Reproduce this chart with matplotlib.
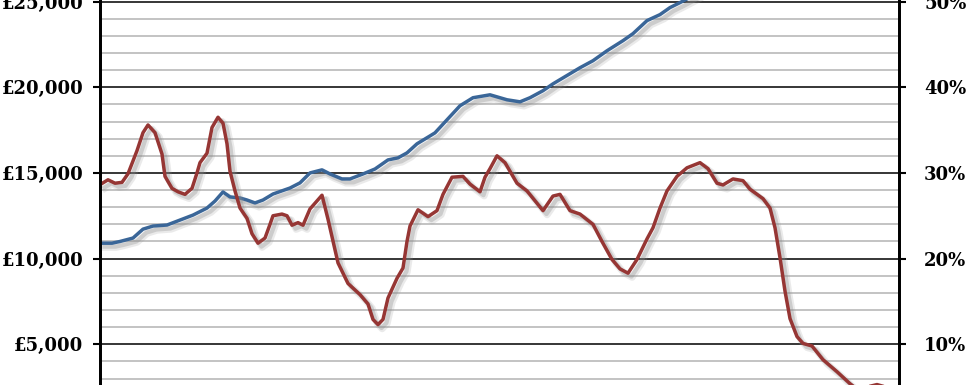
"""Recreate the two-axis line chart (value in pounds and percentage)."""

import matplotlib

matplotlib.use("Agg")
import matplotlib.patheffects as pe
import matplotlib.pyplot as plt
from matplotlib.font_manager import FontProperties
from matplotlib.ticker import FuncFormatter, MultipleLocator

# period index (roughly months) and values
BLUE_PERIOD = [0, 2.2, 3.8, 6.4, 8.4, 10.4, 13.2, 15.8, 18.4, 21.2, 22.8, 24.4, 25.8, 27.8,
               29.2, 30.8, 32.4, 34.4, 37.8, 39.8, 41.8, 44.2, 45.8, 48.2, 49.8, 52.4, 54.8,
               57.4, 59.4, 61.2, 63.2, 65.8, 66.8, 69.2, 71.8, 74.4, 77.8, 81.2, 83.8, 85.8,
               88.4, 90.4, 95.8, 98.4, 101.2, 104.4, 106.4, 109.2, 111.8, 113.8, 115.8, 118.8]
BLUE_VALUE = [10900, 10900, 11000, 11200, 11720, 11900, 11960, 12250, 12540, 12950, 13360,
              13890, 13600, 13540, 13420, 13250, 13420, 13770, 14120, 14420, 15000, 15180,
              14940, 14650, 14650, 14940, 15230, 15760, 15880, 16170, 16700, 17160, 17340,
              18100, 18920, 19390, 19560, 19270, 19150, 19390, 19800, 20200, 21140, 21550,
              22130, 22720, 23130, 23890, 24240, 24650, 24940, 25400]

RED_PERIOD = [0, 1.4, 2.8, 4.2, 5.4, 7.2, 8.4, 9.4, 10.8, 12.2, 12.8, 14.2, 15.4, 16.8, 18.2,
              19.2, 19.8, 21.2, 22.2, 23.4, 24.4, 25.2, 25.8, 26.8, 27.8, 29.2, 30.2, 31.4,
              32.8, 33.8, 34.4, 36.2, 37.2, 38.2, 39.4, 40.4, 41.8, 44.2, 45.4, 47.4, 49.4,
              51.8, 53.4, 54.4, 55.4, 56.4, 57.4, 59.2, 60.4, 61.2, 61.8, 63.4, 65.4, 67.2,
              68.4, 70.2, 72.4, 73.8, 75.8, 76.8, 77.8, 79.2, 80.8, 83.2, 85.2, 88.4, 90.4,
              91.8, 93.8, 95.8, 98.4, 100.2, 102.2, 103.8, 105.4, 107.2, 109.2, 110.4, 111.8,
              113.2, 115.2, 117.2, 119.8, 121.4, 123.2, 124.4, 126.4, 128.4, 129.8, 132.4,
              133.8, 134.8, 135.8, 136.8, 137.8, 139.2, 140.4, 142.2, 144.4, 147.2, 149.8,
              152.2, 153.8, 155.2, 156.4]
RED_PCT = [28.7, 29.2, 28.8, 28.9, 29.9, 32.6, 34.7, 35.6, 34.7, 32.2, 29.6, 28.2, 27.8, 27.5,
           28.2, 30.0, 31.2, 32.3, 35.3, 36.5, 35.8, 33.4, 30.2, 27.9, 25.9, 24.7, 22.9, 21.8,
           22.4, 24.0, 25.0, 25.2, 25.0, 23.9, 24.2, 23.9, 25.8, 27.4, 24.6, 19.5, 17.1, 15.8,
           14.7, 12.9, 12.3, 12.9, 15.4, 17.7, 18.9, 22.0, 23.8, 25.7, 24.9, 25.6, 27.5, 29.5,
           29.6, 28.7, 27.8, 29.5, 30.5, 32.0, 31.2, 28.8, 27.9, 25.6, 27.3, 27.5, 25.6, 25.2,
           24.0, 22.0, 19.9, 18.8, 18.3, 19.9, 22.3, 23.6, 25.9, 27.9, 29.6, 30.6, 31.2, 30.5,
           28.8, 28.6, 29.3, 29.1, 28.1, 27.0, 25.9, 23.6, 20.1, 16.2, 13.0, 10.9, 10.1, 9.8,
           8.2, 6.8, 5.4, 4.3, 5.1, 5.3, 5.1]

BLUE = "#3a6698"
RED = "#963634"
LABEL_FONT = FontProperties(family="DejaVu Serif", weight="bold", size=13)

fig = plt.figure(figsize=(9.67, 3.85), dpi=100)
ax = fig.add_axes([100 / 967, 0, 799 / 967, 1])
ax2 = ax.twinx()

y_low, y_high = 2624, 25093
ax.set_ylim(y_low, y_high)
ax2.set_ylim(y_low / 500, y_high / 500)
ax.set_xlim(-0.2, 159.6)

ax.yaxis.set_major_locator(MultipleLocator(5000))
ax.yaxis.set_minor_locator(MultipleLocator(1000))
ax2.yaxis.set_major_locator(MultipleLocator(10))
ax.yaxis.set_major_formatter(FuncFormatter(lambda v, _: f"£{v:,.0f}"))
ax2.yaxis.set_major_formatter(FuncFormatter(lambda v, _: f"{v:.0f}%"))

ax.grid(which="minor", axis="y", color="#b3b3b3", linewidth=1.1)
ax.grid(which="major", axis="y", color="black", linewidth=1.1)
ax.set_axisbelow(True)
ax.set_xticks([])

for a, pad in ((ax, 7), (ax2, 13)):
    for side in ("top", "bottom"):
        a.spines[side].set_visible(False)
    for side in ("left", "right"):
        a.spines[side].set_linewidth(2)
    a.tick_params(axis="y", which="major", direction="out", length=5, width=1.5, pad=pad)
    a.tick_params(axis="y", which="minor", length=0)
    for label in a.get_yticklabels():
        label.set_fontproperties(LABEL_FONT)

shadow = [
    pe.SimpleLineShadow(offset=(3, -3), shadow_color="#999999", alpha=0.2, linewidth=5),
    pe.SimpleLineShadow(offset=(2.5, -2.5), shadow_color="#888888", alpha=0.3, linewidth=3),
    pe.Normal(),
]
ax.plot(BLUE_PERIOD, BLUE_VALUE, color=BLUE, linewidth=2.5, solid_joinstyle="round",
        path_effects=shadow)
ax2.plot(RED_PERIOD, RED_PCT, color=RED, linewidth=2.5, solid_joinstyle="round",
         path_effects=shadow)

fig.savefig("out.png", dpi=100)
